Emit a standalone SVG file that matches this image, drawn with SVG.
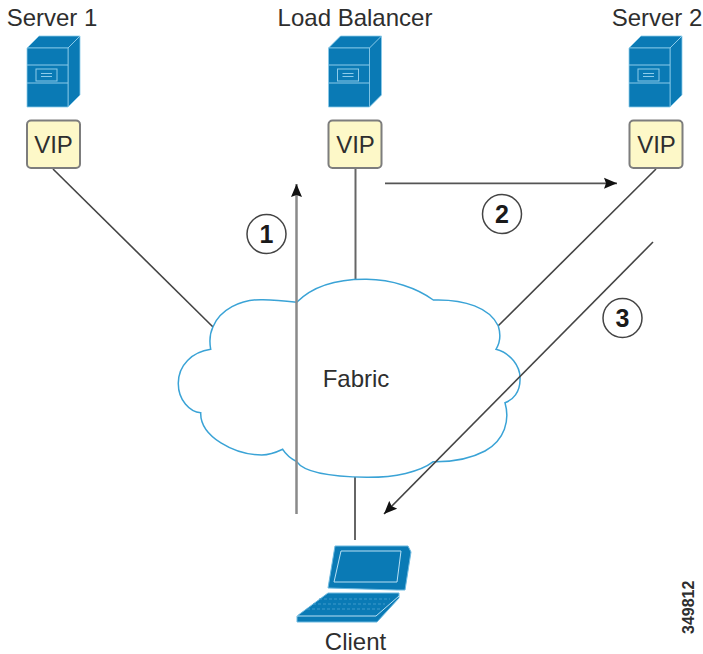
<svg xmlns="http://www.w3.org/2000/svg" width="703" height="654" viewBox="0 0 703 654">
<style>
text{font-family:"Liberation Sans",Arial,sans-serif;fill:#2e2e2e}
.t{font-size:24px;text-anchor:middle}
.vip{font-size:24px;text-anchor:middle}
.box{fill:#fdf8c8;stroke:#7d7d7d;stroke-width:2}
.line{fill:none;stroke:#444;stroke-width:1.6}
.vert{fill:none;stroke:#666;stroke-width:2}
.arr{fill:none;stroke:#8a8a8a;stroke-width:2.500}
.arr2{fill:none;stroke:#555;stroke-width:1.800}
.num{fill:#fff;stroke:#444;stroke-width:1.500}
.n{font-size:25px;font-weight:bold;text-anchor:middle;fill:#1a1a1a}
.sv{fill:#0a7ab5;stroke:#8ccbea;stroke-width:.8}
.sv2{fill:none;stroke:#8ccbea;stroke-width:1}
.lap{fill:#0a7ab5;stroke:#6cb9e0;stroke-width:1}
.scr{fill:none;stroke:#b8e0f4;stroke-width:1}
.keys{fill:none;stroke:#3f9acb;stroke-width:1;stroke-dasharray:3 2}
</style>
<defs>
<marker id="a" markerWidth="14" markerHeight="12" refX="13" refY="6" orient="auto" markerUnits="userSpaceOnUse"><path d="M0 0.500L13 6L0 11.500L2 6Z" fill="#111"/></marker>
<g id="server">
<path class="sv" d="M27 48L39 36H80V95L68 107V48Z"/>
<path class="sv" d="M27 48H68V107H27Z"/>
<path class="sv2" d="M27 65H68M27 83H68M68 48L80 36"/>
<rect class="sv2" x="36" y="69" width="21" height="12"/>
<path class="sv2" d="M41 73.500H52M41 76.500H52"/>
</g>
</defs>
<g id="connectors">
<path class="line" d="M53 169L213 327"/>
<path class="vert" d="M355.500 169V279"/>
<path class="line" d="M656 169L498 326"/>
<path class="vert" d="M355 477V540"/>
</g>
<g id="fabric">
<path d="M296.700 302.300C315 284 340 279 366.700 279.300C392 279.500 417 288 433.300 300C465 299 490 308 498.300 326C501 335 500 343 496 349.300C510 353 521 366 520 380C520 392 513 400 505 402.700C510 420 505 440 485 451C470 459 450 462 433.300 461.700C420 472 395 477.500 366.700 477.300C340 477 305 474 296.700 461.700C290 458 285 453 282.700 449.300C275 453 268 455 261.700 455C235 455 200 437 200.700 412.700C190 412 178 400 178.300 383C178.500 365 192 352 210.700 349.300C209 340 210 333 213 326.700C220 310 240 299 263 299.700C275 300 285 301 296.700 302.300Z" fill="#fff" stroke="#3aa3d6" stroke-width="1.500"/>
<text class="t" x="356" y="387">Fabric</text>
</g>
<g id="arrows">
<path class="arr" d="M296.500 514V184" marker-end="url(#a)"/>
<path class="arr2" d="M385 183.300H617" marker-end="url(#a)"/>
<path class="line" d="M653 242L384 514" marker-end="url(#a)"/>
</g>
<g id="server1">
<text class="t" x="52" y="26">Server 1</text>
<use href="#server"/>
<rect class="box" x="27" y="120.500" width="53" height="47.500" rx="4"/>
<text class="vip" x="53.500" y="153">VIP</text>
</g>
<g id="balancer">
<text class="t" x="355" y="26">Load Balancer</text>
<use href="#server" x="301.500"/>
<rect class="box" x="328.500" y="120.500" width="53" height="47.500" rx="4"/>
<text class="vip" x="355.500" y="153">VIP</text>
</g>
<g id="server2">
<text class="t" x="657" y="26">Server 2</text>
<use href="#server" x="602"/>
<rect class="box" x="629.500" y="120.500" width="53" height="47.500" rx="4"/>
<text class="vip" x="656.500" y="153">VIP</text>
</g>
<g id="step1"><circle class="num" cx="266.500" cy="234" r="19.500"/><text class="n" x="266.500" y="243">1</text></g>
<g id="step2"><circle class="num" cx="502" cy="214" r="19.500"/><text class="n" x="502" y="223">2</text></g>
<g id="step3"><circle class="num" cx="622.500" cy="318" r="19.500"/><text class="n" x="622.500" y="327">3</text></g>
<g id="client">
<path class="lap" d="M335 546H408L411 552L405 590H397L328 588Z"/>
<path class="scr" d="M341 551H401L397 582H334Z"/>
<path class="lap" d="M297 616L328 593H399V598L377 622H297Z"/>
<path class="scr" d="M297 616H376L399 596"/>
<path class="keys" d="M319 599H390M313 604H385M307 609H380"/>
<text class="t" x="355.500" y="650">Client</text>
</g>
<text id="figure-number" transform="translate(694 634) rotate(-90)" style="font-size:16px;font-weight:bold">349812</text>
</svg>
